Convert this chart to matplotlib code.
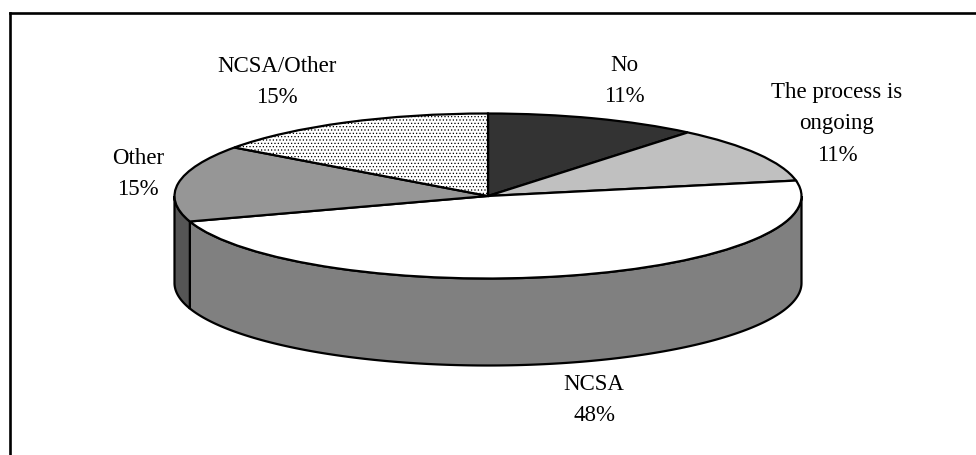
import numpy as np
from matplotlib import pyplot as plt

labels = ["No", "The process is\nongoing", "NCSA", "Other", "NCSA/Other"]
values = [11, 11, 48, 15, 15]
pct_text = ["11%", "11%", "48%", "15%", "15%"]
top_colors = ["#333333", "#c0c0c0", "#ffffff", "#969696", "#ffffff"]
wall_colors = ["#1c1c1c", "#6a6a6a", "#808080", "#555555", "#808080"]

W, H = 976, 456
CX, CY = 488, 197
RX, RY = 313.5, 82.5
DEPTH = 87

plt.rcParams["font.family"] = ["Liberation Serif"]
plt.rcParams["hatch.linewidth"] = 0.5

fig = plt.figure(figsize=(W / 100, H / 100), dpi=100)
ax = fig.add_axes([0, 0, 1, 1])

# top face, squashed pie
wedges, _ = ax.pie(values, colors=top_colors, startangle=90, counterclock=False,
                   radius=1, center=(0, 0),
                   wedgeprops=dict(edgecolor="black", linewidth=1.6))
wedges[4].set_hatch(".....")
ax.set_aspect("auto")
# axes in unit-radius coords: same pixel frame as the picture
ax.set_xlim(-CX / RX, (W - CX) / RX)
ax.set_ylim(-(H - CY) / RY, CY / RY)
ax.axis("off")

# side wall, only the front half shows
edges = np.cumsum([0] + values) / sum(values) * 360
d = DEPTH / RY
for i in range(len(values)):
    a0 = max(edges[i], 90)
    a1 = min(edges[i + 1], 270)
    if a1 <= a0:
        continue
    t = np.radians(np.linspace(a0, a1, 200))
    x = np.sin(t)
    y = np.cos(t)
    xs = np.concatenate([x, x[::-1]])
    ys = np.concatenate([y, y[::-1] - d])
    ax.fill(xs, ys, facecolor=wall_colors[i], edgecolor="black", linewidth=1.6, zorder=0.5)

# frame: only the top and left lines are there
fig.add_artist(plt.Line2D([9.5 / W, 9.5 / W], [0, 1 - 14 / H], color="black", linewidth=1.9,
                          solid_capstyle="projecting"))
fig.add_artist(plt.Line2D([9.5 / W, 1], [1 - 14 / H, 1 - 14 / H], color="black", linewidth=1.9,
                          solid_capstyle="projecting"))

# label block centres in pixels
pos = [(624, 81), (837, 124), (594, 400), (138, 174), (277, 82)]
for lab, p, (x, y) in zip(labels, pct_text, pos):
    fig.text(x / W, 1 - y / H, lab + "\n" + p, ha="center", va="center", fontsize=16.5,
             linespacing=1.68)

fig.savefig("out.png", dpi=100)
